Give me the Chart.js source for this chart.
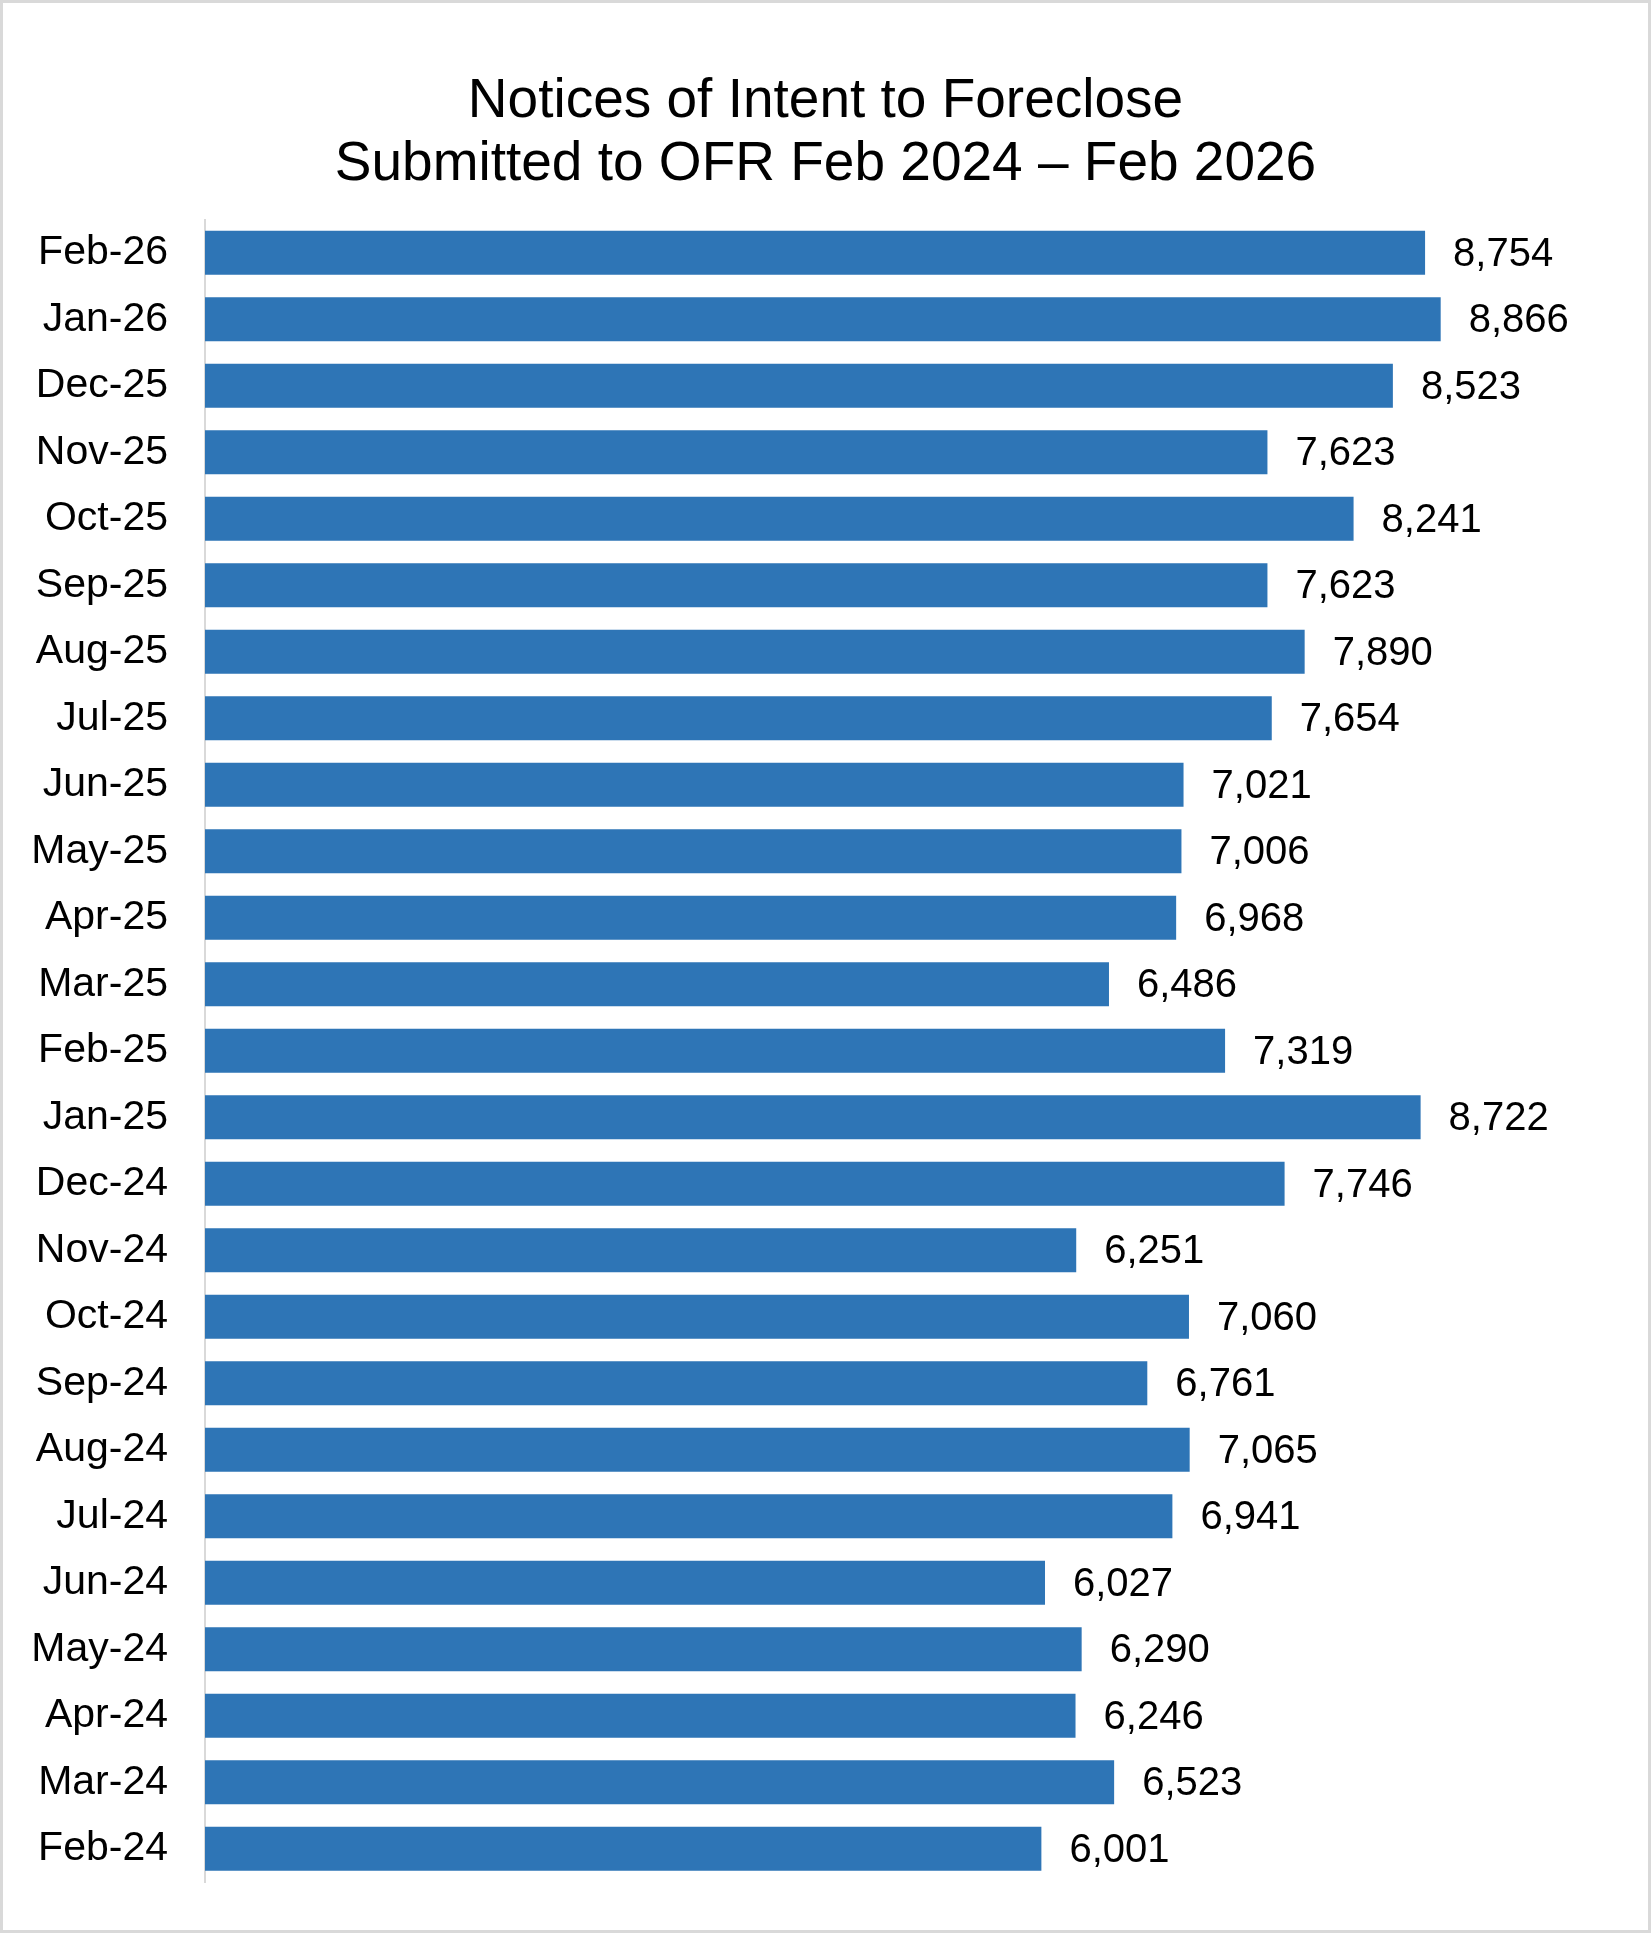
<!DOCTYPE html>
<html>
<head>
<meta charset="utf-8">
<style>
  html, body { margin: 0; padding: 0; background: #ffffff; }
  #wrap { width: 1651px; height: 1933px; position: relative; }
  canvas { display: block; }
</style>
<script src="https://cdn.jsdelivr.net/npm/chart.js@4.4.1/dist/chart.umd.min.js"></script>
</head>
<body>
<div id="wrap"><canvas id="c" width="1651" height="1933"></canvas></div>
<script>
const titleLines = ["Notices of Intent to Foreclose", "Submitted to OFR Feb 2024 \u2013 Feb 2026"];
const categories = ["Feb-26","Jan-26","Dec-25","Nov-25","Oct-25","Sep-25","Aug-25","Jul-25","Jun-25","May-25","Apr-25","Mar-25","Feb-25","Jan-25","Dec-24","Nov-24","Oct-24","Sep-24","Aug-24","Jul-24","Jun-24","May-24","Apr-24","Mar-24","Feb-24"];
const notices = [8754,8866,8523,7623,8241,7623,7890,7654,7021,7006,6968,6486,7319,8722,7746,6251,7060,6761,7065,6941,6027,6290,6246,6523,6001];

const FONT = "'Liberation Sans', Arial, Helvetica, sans-serif";

const borderPlugin = {
  id: 'frame',
  beforeDraw(chart) {
    const ctx = chart.ctx;
    ctx.save();
    ctx.fillStyle = '#ffffff';
    ctx.fillRect(0, 0, chart.width, chart.height);
    ctx.restore();
  },
  afterDraw(chart) {
    const ctx = chart.ctx;
    ctx.save();
    ctx.strokeStyle = '#d9d9d9';
    ctx.lineWidth = 3;
    ctx.strokeRect(1.5, 1.5, chart.width - 3, chart.height - 3);
    ctx.restore();
  }
};

const valueLabels = {
  id: 'valueLabels',
  afterDatasetsDraw(chart) {
    const ctx = chart.ctx;
    const meta = chart.getDatasetMeta(0);
    ctx.save();
    ctx.font = "40px " + FONT;
    ctx.fillStyle = '#000000';
    ctx.textAlign = 'left';
    ctx.textBaseline = 'middle';
    meta.data.forEach((bar, i) => {
      const v = chart.data.datasets[0].data[i];
      ctx.fillText(v.toLocaleString('en-US'), bar.x + 28, bar.y + 2);
    });
    ctx.restore();
  }
};

new Chart(document.getElementById('c'), {
  type: 'bar',
  data: {
    labels: categories,
    datasets: [{
      data: notices,
      backgroundColor: '#2E75B6',
      borderWidth: 0,
      categoryPercentage: 1.0,
      barPercentage: 0.665
    }]
  },
  plugins: [borderPlugin, valueLabels],
  options: {
    indexAxis: 'y',
    responsive: false,
    devicePixelRatio: 1,
    animation: false,
    layout: { padding: { left: 0, right: 0, top: 0, bottom: 51 } },
    plugins: {
      legend: { display: false },
      tooltip: { enabled: false },
      title: {
        display: true,
        text: titleLines,
        color: '#000000',
        font: { family: FONT, size: 55, weight: 'normal', lineHeight: 1.15 },
        padding: { top: 70, bottom: 23 }
      }
    },
    scales: {
      x: {
        display: false,
        min: 0,
        max: 10375
      },
      y: {
        type: 'category',
        offset: true,
        grid: { display: false, drawTicks: false },
        border: { display: true, color: '#d9d9d9', width: 2 },
        ticks: {
          color: '#000000',
          font: { family: FONT, size: 41 },
          padding: 37,
          autoSkip: false
        },
        afterFit(scale) {
          scale.width = 205;
          scale.paddingTop = 0;
          scale.paddingBottom = 0;
        }
      }
    }
  }
});
</script>
</body>
</html>
